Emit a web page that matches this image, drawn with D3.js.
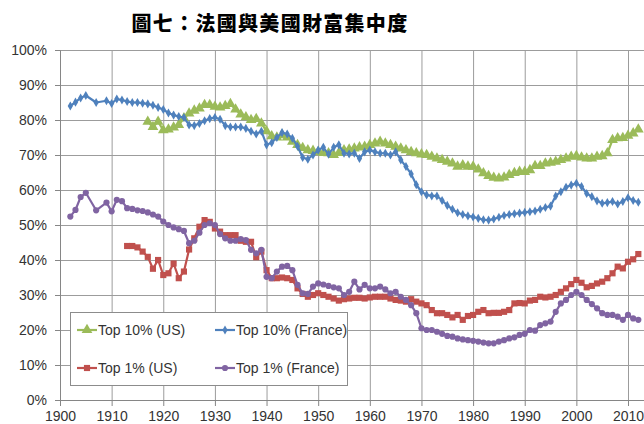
<!DOCTYPE html>
<html>
<head>
<meta charset="utf-8">
<script src="https://cdn.jsdelivr.net/npm/d3@7"></script>
<style>
    body { margin: 0; background: #fff; }
    svg text { font-family: "Liberation Sans", Arial, sans-serif; }
</style>
</head>
<body>
<div id="chart-container"></div>
<script>
// --- Data (wealth share, %) ---
const seriesNames = ['Top 10% (US)', 'Top 10% (France)', 'Top 1% (US)', 'Top 1% (France)'];

const us10Start = 1917;
const us10 = [
    79.5, 78.0, 79.5,
    77.1, 77.3, 77.9, 78.6, 80.5, 81.9, 82.7, 83.3, 84.3, 84.3,
    83.8, 83.6, 84.0, 84.6, 83.0, 81.6, 80.8, 80.0, 80.3, 79.0,
    76.8, 75.4, 75.0, 75.7, 75.0, 73.8, 72.9, 72.0, 71.4, 71.2,
    70.9, 70.6, 70.5, 70.0, 70.6, 71.4, 71.6, 71.9, 72.2, 72.4,
    72.9, 73.3, 73.8, 73.3, 72.9, 72.4, 71.9, 71.4, 70.9, 70.5,
    70.2, 70.0, 69.5, 69.0, 68.6, 68.1, 67.6, 66.7, 67.1, 66.7,
    66.7, 65.9, 64.8, 64.0, 63.5, 63.3, 63.6, 64.3, 64.9, 65.2,
    65.2, 65.7, 66.9, 66.9, 67.6, 67.8, 68.1, 68.6, 69.0, 69.5,
    69.7, 69.3, 69.0, 69.0, 69.5, 69.7, 70.5, 74.3, 74.8, 74.9,
    75.5, 76.2, 77.3
];

const fr10Start = 1902;
const fr10 = [
    84.0, 85.1, 86.3, 87.0, null, 85.0, null, 85.5,
    84.7, 86.0, 85.7, 85.3, 85.0, 85.0, 84.8, 84.6, 84.2, 83.6,
    83.0, 82.0, 81.4, 81.0, 80.7, 78.6, 78.4, 79.0, 79.8, 80.4,
    80.7, 80.2, 78.4, 78.0, 78.0, 78.0, 77.6, 76.8, 76.0, 76.8,
    72.9, 73.5, 75.0, 76.4, 76.0, 74.8, 72.5, 69.3, 68.8, 70.0,
    71.4, 72.2, 70.2, 72.2, 72.9, 70.5, 70.3, 70.5, 69.0, 70.9,
    71.4, 70.9, 70.5, 70.5, 70.0, 70.9, 68.6, 66.7, 64.6, 61.5,
    59.5, 58.6, 58.3, 58.3, 57.0, 55.6, 54.5, 53.5, 53.0, 52.6,
    52.3, 51.9, 51.5, 51.4, 51.7, 52.2, 52.7, 53.0, 53.2, 53.4,
    53.6, 53.8, 54.0, 54.5, 55.0, 55.4, 58.3, 59.5, 60.8, 61.4,
    61.9, 61.0, 59.0, 58.1, 56.9, 56.2, 56.4, 56.7, 56.0, 56.7,
    57.8, 57.0, 56.5
];

const us1Start = 1913;
const us1 = [
    44.0, 44.0, 43.6, 42.4, 40.9, 37.5, 40.0,
    35.7, 36.2, 39.0, 34.8, 36.7, 43.0, 46.2, 49.5, 51.4, 50.9,
    49.0, 48.1, 47.1, 47.1, 47.1, 45.5, 45.2, 45.2, 40.8, 42.4,
    37.1, 34.8, 34.8, 35.0, 34.8, 34.3, 31.9, 30.3, 29.5, 30.0,
    30.5, 30.0, 29.5, 29.0, 28.4, 28.8, 29.0, 29.2, 29.2, 29.0,
    29.3, 29.5, 29.5, 29.5, 29.0, 28.6, 28.4, 28.1, 28.8, 28.1,
    27.6, 27.1, 25.7, 24.8, 24.8, 24.3, 23.6, 24.3, 22.9, 24.0,
    24.3, 25.2, 25.7, 24.8, 24.9, 24.9, 25.2, 25.7, 27.6, 27.7,
    27.6, 28.4, 28.6, 29.5, 29.3, 29.5, 30.0, 30.9, 31.9, 33.1,
    34.3, 33.5, 32.2, 32.6, 33.3, 33.8, 34.8, 36.2, 38.1, 37.6,
    39.5, 40.2, 41.7
];

const fr1Start = 1902;
const fr1 = [
    52.4, 54.3, 58.0, 59.2, null, 54.2, null, 56.4,
    53.9, 57.2, 56.8, 54.8, 54.6, 54.2, 54.0, 53.6, 53.0, 52.4,
    51.0, 50.0, 49.3, 48.8, 48.3, 44.8, 45.5, 47.8, 50.0, 50.5,
    50.0, 47.4, 46.2, 45.5, 45.5, 46.0, 45.7, 42.9, 41.9, 42.9,
    35.2, 34.8, 36.7, 38.1, 38.3, 37.1, 32.9, 30.5, 30.3, 32.4,
    33.3, 33.0, 32.6, 32.2, 31.9, 30.0, 30.9, 33.8, 31.6, 32.9,
    31.9, 31.9, 32.4, 31.6, 30.5, 30.9, 29.5, 28.6, 27.1, 24.8,
    20.5, 20.0, 20.0, 19.5, 18.9, 18.3, 18.1, 17.6, 17.3, 17.1,
    16.9, 16.7, 16.4, 16.2, 16.2, 16.7, 17.1, 17.6, 17.9, 18.6,
    18.9, 20.0, 19.8, 21.4, 21.9, 22.4, 25.2, 27.6, 28.6, 30.0,
    30.9, 30.0, 28.6, 27.4, 26.2, 24.8, 24.3, 24.3, 23.8, 22.9,
    24.3, 23.3, 22.9
];

const xTicks = [1900, 1910, 1920, 1930, 1940, 1950, 1960, 1970, 1980, 1990, 2000, 2010];
const yTicks = [0, 10, 20, 30, 40, 50, 60, 70, 80, 90, 100];

function toPoints(start, values) {
    return values
        .map((v, i) => ({ year: start + i, value: v }))
        .filter(d => d.value !== null);
}

const series = [
    { name: seriesNames[0], points: toPoints(us10Start, us10), color: '#9bbb59', symbol: d3.symbolTriangle, size: 50 },
    { name: seriesNames[1], points: toPoints(fr10Start, fr10), color: '#4f81bd', symbol: d3.symbolDiamond, size: 24 },
    { name: seriesNames[2], points: toPoints(us1Start, us1), color: '#c0504d', symbol: d3.symbolSquare, size: 38 },
    { name: seriesNames[3], points: toPoints(fr1Start, fr1), color: '#8064a2', symbol: d3.symbolCircle, size: 30 }
];

// --- Chart ---
const W = 644, H = 424;
const plot = { left: 60, top: 50, bottom: 400, right: 644 };

const svg = d3.select('#chart-container')
    .append('svg')
    .attr('width', W)
    .attr('height', H);

const xScale = d3.scaleLinear().domain([1900, 2010]).range([plot.left, 628]);
const yScale = d3.scaleLinear().domain([0, 100]).range([plot.bottom, plot.top]);

// Title
svg.append('text')
    .attr('x', 270)
    .attr('y', 31)
    .attr('text-anchor', 'middle')
    .style('font-family', '"Noto Sans CJK TC", "Noto Sans CJK SC", sans-serif')
    .style('font-weight', 900)
    .style('font-size', '20px')
    .style('letter-spacing', '1.3px')
    .text('圖七：法國與美國財富集中度');

// Grid lines
svg.append('g')
    .attr('transform', `translate(${plot.left},0)`)
    .call(d3.axisLeft(yScale).tickValues(yTicks).tickSize(-(plot.right - plot.left)).tickFormat(''))
    .call(g => g.select('.domain').remove())
    .selectAll('line')
    .attr('stroke', '#9c9c9c');

svg.append('g')
    .attr('transform', `translate(0,${plot.bottom})`)
    .call(d3.axisBottom(xScale).tickValues(xTicks).tickSize(-(plot.bottom - plot.top)).tickFormat(''))
    .call(g => g.select('.domain').remove())
    .selectAll('line')
    .attr('stroke', '#9c9c9c');

// Y axis
const yAxis = svg.append('g')
    .attr('transform', `translate(${plot.left},0)`)
    .call(d3.axisLeft(yScale).tickValues(yTicks).tickSize(5).tickPadding(8).tickFormat(d => d + '%'));
yAxis.select('.domain').attr('stroke', '#868686');
yAxis.selectAll('line').attr('stroke', '#868686');
yAxis.selectAll('text').style('font-size', '14px').attr('fill', '#333');

// X axis
const xAxis = svg.append('g')
    .attr('transform', `translate(0,${plot.bottom})`)
    .call(d3.axisBottom(xScale).tickValues(xTicks).tickSize(6).tickPadding(5).tickFormat(d3.format('d')));
xAxis.select('.domain').attr('d', `M${plot.left + 0.5},0.5H${plot.right}`).attr('stroke', '#868686');
xAxis.selectAll('line').attr('stroke', '#868686');
xAxis.selectAll('text').style('font-size', '14px').attr('fill', '#333');

// Lines and markers
const line = d3.line()
    .x(d => xScale(d.year))
    .y(d => yScale(d.value));

series.forEach(s => {
    const g = svg.append('g');
    g.append('path')
        .datum(s.points)
        .attr('fill', 'none')
        .attr('stroke', s.color)
        .attr('stroke-width', 2.2)
        .attr('stroke-linejoin', 'round')
        .attr('d', line);
    g.selectAll('path.marker')
        .data(s.points)
        .enter()
        .append('path')
        .attr('class', 'marker')
        .attr('transform', d => `translate(${xScale(d.year)},${yScale(d.value)})`)
        .attr('d', d3.symbol().type(s.symbol).size(s.size))
        .attr('fill', s.color);
});

// Legend
const legend = svg.append('g');
legend.append('rect')
    .attr('x', 70.5)
    .attr('y', 312.5)
    .attr('width', 277)
    .attr('height', 73)
    .attr('fill', '#fff')
    .attr('stroke', '#8c8c8c');

const legendPos = [[77, 330], [215, 330], [77, 368], [215, 368]];
series.forEach((s, i) => {
    const [lx, ly] = legendPos[i];
    const item = legend.append('g').attr('transform', `translate(${lx},${ly})`);
    item.append('line')
        .attr('x1', 0).attr('x2', 20)
        .attr('stroke', s.color)
        .attr('stroke-width', 2.2);
    item.append('path')
        .attr('transform', 'translate(10,0)')
        .attr('d', d3.symbol().type(s.symbol).size(s.size))
        .attr('fill', s.color);
    item.append('text')
        .attr('x', 21)
        .attr('dy', '0.35em')
        .style('font-size', '14px')
        .attr('fill', '#333')
        .text(s.name);
});
</script>
</body>
</html>
